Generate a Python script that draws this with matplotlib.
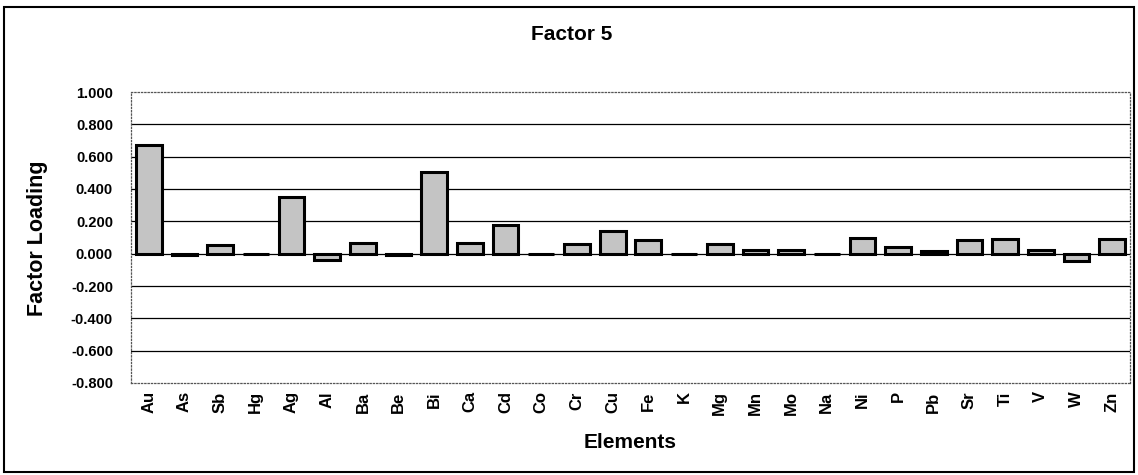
import matplotlib
matplotlib.use("Agg")
import matplotlib.pyplot as plt
from matplotlib.patches import Rectangle

elements = ["Au", "As", "Sb", "Hg", "Ag", "Al", "Ba", "Be", "Bi", "Ca",
            "Cd", "Co", "Cr", "Cu", "Fe", "K", "Mg", "Mn", "Mo", "Na",
            "Ni", "P", "Pb", "Sr", "Ti", "V", "W", "Zn"]
loadings = [0.672, -0.010, 0.055, 0.000, 0.352, -0.038, 0.065, -0.010, 0.505, 0.065,
            0.176, 0.000, 0.058, 0.138, 0.087, 0.000, 0.058, 0.024, 0.022, 0.000,
            0.100, 0.040, 0.018, 0.082, 0.090, 0.020, -0.048, 0.092]
yticks = [-0.8, -0.6, -0.4, -0.2, 0.0, 0.2, 0.4, 0.6, 0.8, 1.0]

plt.rcParams['font.family'] = 'Liberation Sans'
plt.rcParams['font.weight'] = 'bold'

W, H = 1138, 475
fig = plt.figure(figsize=(W / 100, H / 100), dpi=100)
ax = fig.add_axes([131/W, 1 - 383/H, (1130-131)/W, (383-92)/H])

# gridlines first so bars sit on top
for y in yticks[1:-1]:
    ax.axhline(y, color='black', linewidth=0.9, zorder=1)

x = range(len(elements))
ax.bar(x, loadings, width=0.72, color='#c4c4c4', edgecolor='black',
       linewidth=2.2, zorder=3)

ax.set_xlim(-0.5, len(elements) - 0.5)
ax.set_ylim(-0.8, 1.0)
ax.set_yticks(yticks)
ax.set_yticklabels(["%.3f" % v for v in yticks], fontsize=10.5, fontweight='bold')
ax.set_xticks(list(x))
ax.set_xticklabels(elements, rotation=90, fontsize=12, fontweight='bold')
ax.tick_params(axis='y', length=0, pad=13)
ax.tick_params(axis='x', length=0, pad=6)

for s in ax.spines.values():
    s.set_linestyle(':')
    s.set_linewidth(0.9)
    s.set_color('#555555')

fig.text(38/W, 1 - 238/H, "Factor Loading", rotation=90, ha='center', va='center',
         fontsize=15.5, fontweight='bold')
fig.text(630/W, 1 - 442/H, "Elements", ha='center', va='center',
         fontsize=15, fontweight='bold')
fig.text(572/W, 1 - 35/H, "Factor 5", ha='center', va='center',
         fontsize=15, fontweight='bold')

# outer chart frame
fig.patches.append(Rectangle((4/W, 3/H), (1134-4)/W, (470-5)/H, transform=fig.transFigure,
                             fill=False, edgecolor='black', linewidth=1.5))

fig.savefig("out.png", dpi=100)
